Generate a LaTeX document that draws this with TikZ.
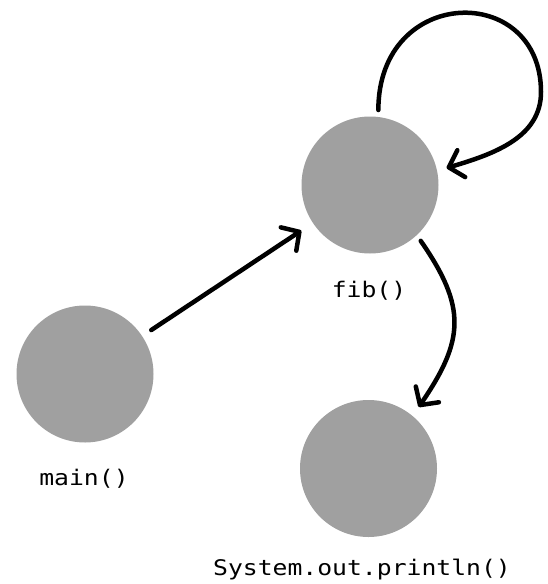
\documentclass[tikz,border=0pt]{standalone}
\usepackage{fontspec}
\usepackage{tikz}
\usetikzlibrary{arrows.meta}

\newfontfamily\codefont[FakeStretch=1.15]{DejaVu Sans Mono}
\definecolor{nodegray}{HTML}{A0A0A0}

\begin{document}
\begin{tikzpicture}[x=1pt, y=-1pt,
    func/.style={circle, fill=nodegray, inner sep=0pt, outer sep=0pt, minimum size=137pt},
    fname/.style={anchor=base, inner sep=0pt, font=\codefont\fontsize{21.5}{26}\selectfont},
    call/.style={line width=4.5pt, line cap=round, -{Straight Barb[length=13pt, width=28pt, line cap=round, line join=round]}}]
    \useasboundingbox (0,0) rectangle (547,584);

    \node[func] (main) at (85,374) {};
    \node[func] (fib) at (370,185) {};
    \node[func] (print) at (368.5,468.5) {};

    \node[fname] (mainname) at (84,485) {main()};
    \node[fname] (fibname) at (369,297) {fib()};
    \node[fname] (printname) at (362,575) {System.out.println()};

    \coordinate (loopR) at (541,92);

    \draw[call, shorten <=11pt, shorten >=14pt] (main) -- (fib);
    \draw[call, shorten <=7pt, shorten >=10pt] (fib.83) .. controls +(0,-132) and +(0,-110) .. (loopR)
        .. controls +(0,45) and +(58,-17) .. (fib.12);
    \draw[call, shorten <=7pt, shorten >=11pt] (fib.-47.6) .. controls +(50,72) and +(52,-76) .. (print.50);
\end{tikzpicture}
\end{document}
